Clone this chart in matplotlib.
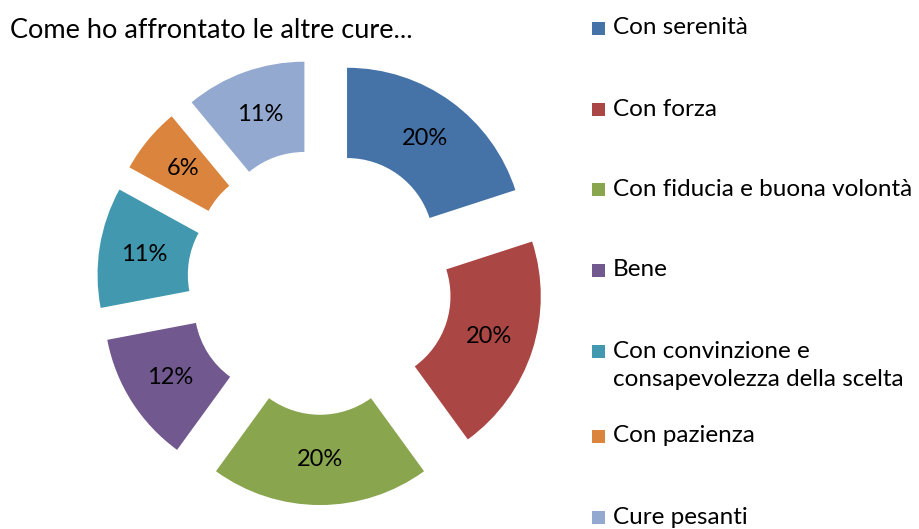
import matplotlib.pyplot as plt
from matplotlib.patches import Rectangle

labels = [
    "Con serenità",
    "Con forza",
    "Con fiducia e buona volontà",
    "Bene",
    "Con convinzione e\nconsapevolezza della scelta",
    "Con pazienza",
    "Cure pesanti",
]
values = [20, 20, 20, 12, 11, 6, 11]
colors = ["#4572A7", "#AA4643", "#89A54E", "#71588F", "#4198AF", "#DB843D", "#93A9CF"]
title = "Come ho affrontato le altre cure..."

W, H = 919, 529
SCALE = 177.0          # pixels per data unit
CX, CY = 320, 282      # donut centre in pixels (from top-left)
FONT = "Lato"

fig = plt.figure(figsize=(W / 100, H / 100), dpi=100)
ax = fig.add_axes([0, 0, 1, 1])
ax.axis("off")

wedges, _, autotexts = ax.pie(
    values,
    colors=colors,
    startangle=90,
    counterclock=False,
    explode=[0.26] * len(values),
    radius=1.0,
    autopct="%1.0f%%",
    pctdistance=0.745,
    wedgeprops=dict(width=0.51, linewidth=0),
    textprops=dict(fontsize=17, color="black", family=FONT),
)
ax.set_xlim(-CX / SCALE, (W - CX) / SCALE)
ax.set_ylim(-(H - CY) / SCALE, CY / SCALE)
ax.set_aspect("auto")

fig.text(10 / W, 1 - 30 / H, title, fontsize=19.5, family=FONT,
         ha="left", va="center")

# legend drawn by hand to match the uneven Excel spacing
legend_y = [28, 109, 189, 270, 351, 436, 517]
line_h = 29
for lab, col, y in zip(labels, colors, legend_y):
    fig.patches.append(Rectangle((592 / W, 1 - (y + 7) / H), 13 / W, 13 / H,
                                 transform=fig.transFigure, facecolor=col,
                                 edgecolor="none"))
    for i, line in enumerate(lab.split("\n")):
        fig.text(613 / W, 1 - (y + i * line_h) / H, line, fontsize=17.5,
                 family=FONT, ha="left", va="center")

fig.savefig("out.png", dpi=100)
